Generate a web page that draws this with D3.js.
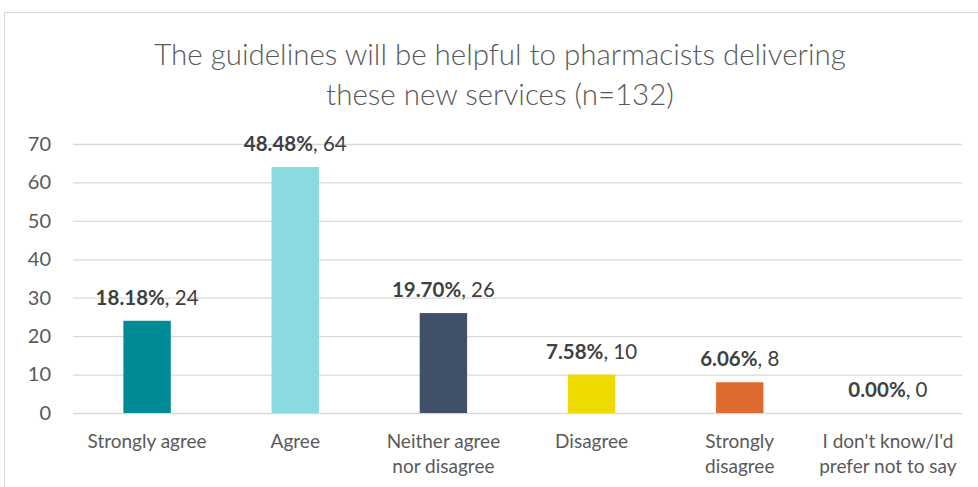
<!DOCTYPE html>
<html>
<head>
<meta charset="utf-8">
<script src="https://cdn.jsdelivr.net/npm/d3@7"></script>
<style>
  html, body { margin: 0; padding: 0; background: #fff; }
  svg { display: block; font-family: Lato, "Open Sans", sans-serif; }
</style>
</head>
<body>
<svg id="chart" width="978" height="487"></svg>
<script>
// Survey responses (n=132)
const categories = [
  ["Strongly agree"],
  ["Agree"],
  ["Neither agree", "nor disagree"],
  ["Disagree"],
  ["Strongly", "disagree"],
  ["I don't know/I'd", "prefer not to say"]
];
const counts = [24, 64, 26, 10, 8, 0];
const percents = ["18.18%", "48.48%", "19.70%", "7.58%", "6.06%", "0.00%"];
const barColors = ["#008b94", "#89dbe0", "#3f5068", "#eedc00", "#dd6b30", "#999999"];
const yTicks = [0, 10, 20, 30, 40, 50, 60, 70];
const titleLines = ["The guidelines will be helpful to pharmacists delivering", "these new services (n=132)"];

const svg = d3.select("#chart");
const W = 978, H = 487;

// chart frame
svg.append("rect")
  .attr("x", 4.5).attr("y", 12.5)
  .attr("width", W + 10).attr("height", H + 10)
  .attr("fill", "none").attr("stroke", "#d9d9d9").attr("stroke-width", 1);

const plot = { left: 73, right: 962, top: 144, bottom: 413 };

const x = d3.scaleBand()
  .domain(d3.range(categories.length))
  .range([plot.left, plot.right])
  .paddingInner(0.68).paddingOuter(0.34);

const y = d3.scaleLinear().domain([0, 70]).range([plot.bottom, plot.top]);

// title
svg.append("g").selectAll("text")
  .data(titleLines).join("text")
  .attr("x", 500).attr("y", (d, i) => 65 + i * 40)
  .attr("text-anchor", "middle")
  .attr("font-size", 29.5).attr("font-weight", 300).attr("fill", "#595959")
  .text(d => d);

// gridlines + y labels
const yAxis = d3.axisLeft(y).tickValues(yTicks).tickSize(-(plot.right - plot.left)).tickPadding(22);
const gy = svg.append("g").attr("transform", `translate(${plot.left},0)`).call(yAxis);
gy.select(".domain").remove();
gy.selectAll(".tick line").attr("stroke", "#d9d9d9").attr("stroke-width", 1.3);
gy.selectAll(".tick text").attr("font-size", 20).attr("fill", "#595959").attr("font-family", "Lato, sans-serif");

// bars
svg.append("g").selectAll("rect")
  .data(counts).join("rect")
  .attr("x", (d, i) => x(i))
  .attr("y", d => y(d))
  .attr("width", x.bandwidth())
  .attr("height", d => y(0) - y(d))
  .attr("fill", (d, i) => barColors[i]);

// data labels
const lbl = svg.append("g").selectAll("text")
  .data(counts).join("text")
  .attr("x", (d, i) => x(i) + x.bandwidth() / 2)
  .attr("y", d => y(d) - 16)
  .attr("text-anchor", "middle")
  .attr("font-size", 20.5).attr("fill", "#404040");
lbl.append("tspan").attr("font-weight", "bold").text((d, i) => percents[i]);
lbl.append("tspan").text(d => ", " + d);

// category labels
const cat = svg.append("g").selectAll("text")
  .data(categories).join("text")
  .attr("x", (d, i) => x(i) + x.bandwidth() / 2)
  .attr("y", 448)
  .attr("text-anchor", "middle")
  .attr("font-size", 19).attr("fill", "#595959");
cat.selectAll("tspan").data(d => d).join("tspan")
  .attr("x", function () { return d3.select(this.parentNode).attr("x"); })
  .attr("dy", (d, i) => i === 0 ? 0 : 25)
  .text(d => d);
</script>
</body>
</html>
